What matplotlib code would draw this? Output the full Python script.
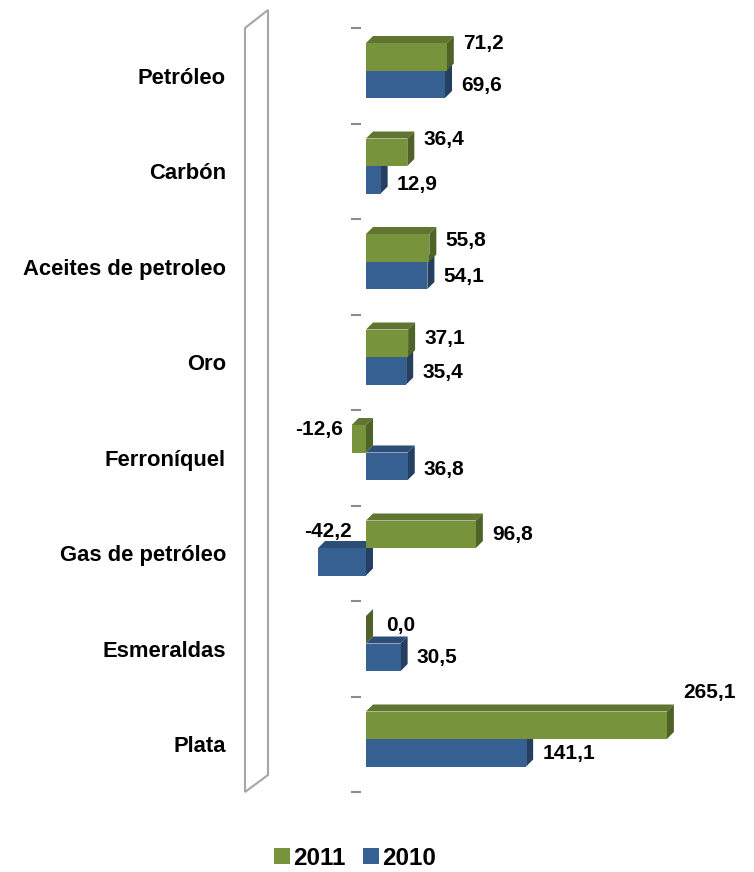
import matplotlib
matplotlib.use("Agg")
import matplotlib.pyplot as plt
from matplotlib.patches import Polygon, Rectangle, Patch

plt.rcParams['font.family'] = ['Liberation Sans', 'DejaVu Sans']
plt.rcParams['font.weight'] = 'bold'

# data
categories = ["Petróleo", "Carbón", "Aceites de petroleo", "Oro",
              "Ferroníquel", "Gas de petróleo", "Esmeraldas", "Plata"]
v2011 = [71.2, 36.4, 55.8, 37.1, -12.6, 96.8, 0.0, 265.1]
v2010 = [69.6, 12.9, 54.1, 35.4, 36.8, -42.2, 30.5, 141.1]

# label nudges in pixels (dx, dy up), Excel moved some labels around
shift_2011 = [(0, 13.5), (0, 12.5), (0, 7), (0, 5), (0, 9), (0, 0), (4, 4.5), (0, 33)]
shift_2010 = [(0, -1.5), (0, -4.5), (0, -1), (0, -1.5), (0, -3), (43, 30), (0, 0), (0, -1)]

W, H = 754, 872
X0 = 366.0      # pixel of value 0
SX = 1.135      # pixels per unit
Y0 = 70.5       # pixel of first group centre
SY = 95.5       # pixels per category
DEPTH = 7       # 3d depth in pixels

green = dict(front="#77933c", top="#5f7530", side="#4f6228")
blue = dict(front="#376092", top="#2c4d75", side="#243f60")


def fmt(v):
    return f"{v:.1f}".replace(".", ",")


def draw_bar(ax, y_top, y_bot, v, col):
    dx = DEPTH / SX
    dy = DEPTH / SY
    lo, hi = min(0, v), max(0, v)
    ax.add_patch(Polygon([(lo, y_top), (hi, y_top), (hi + dx, y_top - dy), (lo + dx, y_top - dy)],
                         closed=True, fc=col["top"], ec="none"))
    ax.add_patch(Polygon([(hi, y_top), (hi, y_bot), (hi + dx, y_bot - dy), (hi + dx, y_top - dy)],
                         closed=True, fc=col["side"], ec="none"))
    ax.add_patch(Rectangle((lo, y_top), hi - lo, y_bot - y_top, fc=col["front"], ec="none"))


def main():
    fig = plt.figure(figsize=(W / 100, H / 100), dpi=100)
    ax = fig.add_axes([0, 0, 1, 1])
    ax.set_xlim(-X0 / SX, (W - X0) / SX)
    ax.set_ylim((H - Y0) / SY, -Y0 / SY)
    ax.axis("off")

    # side wall of the 3d chart
    def px(x, y):
        return (x / W, 1 - y / H)
    wall = [px(245, 28), px(268, 10), px(268, 775), px(245, 792)]
    fig.patches.append(Polygon(wall, closed=True, fc="white", ec="#a6a6a6", lw=1.5,
                               transform=fig.transFigure, zorder=0))

    n = len(categories)
    h = 27.5 / SY
    # tick marks
    for k in range(n + 1):
        t = k - 0.445
        ax.plot([-14 / SX, -6 / SX], [t, t], color="#8c8c8c", lw=1.5)

    for i in range(n):
        draw_bar(ax, i, i + h, v2010[i], blue)
    for i in range(n):
        draw_bar(ax, i - h, i, v2011[i], green)

    for i, name in enumerate(categories):
        ax.text(-140 / SX, i + 0.08, name, ha="right", va="center", fontsize=15.8,
                fontweight="bold")

    gap = 9
    for vals, shifts, yc in ((v2011, shift_2011, -h / 2), (v2010, shift_2010, h / 2)):
        for i, v in enumerate(vals):
            sx, sy = shifts[i]
            if v >= 0:
                ax.annotate(fmt(v), (v, i + yc), xytext=(DEPTH + gap + sx, sy),
                            textcoords="offset pixels", ha="left", va="center",
                            fontsize=15, fontweight="bold")
            else:
                ax.annotate(fmt(v), (v, i + yc), xytext=(-gap + sx, sy),
                            textcoords="offset pixels", ha="right", va="center",
                            fontsize=15, fontweight="bold")

    handles = [Patch(fc=green["front"]), Patch(fc=blue["front"])]
    fig.legend(handles, ["2011", "2010"], loc="center", bbox_to_anchor=(355 / W, 1 - 858 / H),
               ncol=2, frameon=False, prop=dict(size=17.5, weight="bold"),
               handlelength=0.65, handleheight=0.65, handletextpad=0.15, columnspacing=0.7)

    fig.savefig("out.png", dpi=100)


if __name__ == '__main__':
    main()
